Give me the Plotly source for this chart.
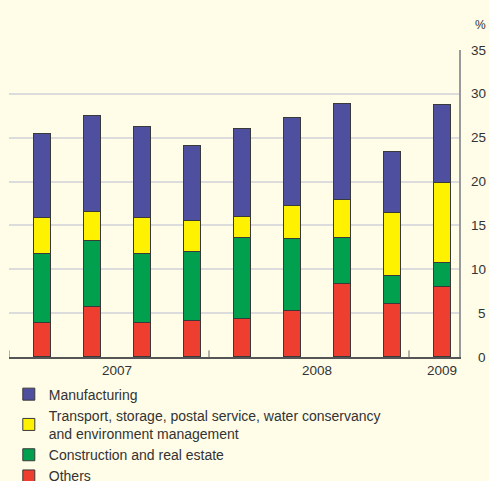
import plotly.graph_objects as go

# ---- data ----
bar_index = [0, 1, 2, 3, 4, 5, 6, 7, 8]
manufacturing = [9.5, 10.95, 10.3, 8.65, 10.05, 10.05, 11.0, 7.0, 8.9]
transport = [4.1, 3.3, 4.2, 3.45, 2.4, 3.85, 4.35, 7.2, 9.1]
construction = [7.95, 7.5, 7.8, 7.93, 9.22, 8.1, 5.17, 3.15, 2.7]
others = [3.85, 5.75, 3.9, 4.07, 4.38, 5.3, 8.38, 6.05, 8.0]

years = ["2007", "2008", "2009"]
year_first_bar = [0, 4, 8]
year_last_bar = [3, 7, 8]

y_ticks = [0, 5, 10, 15, 20, 25, 30, 35]

series = [
    ("Others", others, "#EE3E2F"),
    ("Construction and real estate", construction, "#00A04E"),
    ("Transport, storage, postal service, water conservancy<br>and environment management", transport, "#FFF200"),
    ("Manufacturing", manufacturing, "#4F4F9F"),
]

BG = "#FFFCE8"
TXT = "#333333"
FONT = "Liberation Sans, Arial, sans-serif"

fig = go.Figure()
for name, vals, col in series:
    fig.add_trace(go.Bar(
        x=bar_index, y=vals, name=name,
        marker=dict(color=col, line=dict(color="#3a3a3a", width=1)),
        width=0.34,
    ))

x0 = -0.66
x1 = 8.34

# group separator ticks on the category axis
shapes = []
for fb in year_first_bar:
    shapes.append(dict(type="line", xref="x", yref="y", x0=fb + x0, x1=fb + x0, y0=0, y1=0.75,
                       line=dict(color="#666666", width=1)))
shapes.append(dict(type="line", xref="x", yref="y", x0=x1, x1=x1, y0=0, y1=-0.4,
                   line=dict(color="#444444", width=1.5)))

annotations = []
for yr, fb, lb in zip(years, year_first_bar, year_last_bar):
    annotations.append(dict(x=(fb + lb) / 2, y=0, xref="x", yref="y", text=yr, showarrow=False,
                            yanchor="top", yshift=-4, font=dict(size=13.5, color=TXT, family=FONT)))
for t in y_ticks:
    annotations.append(dict(x=1.0, y=t, xref="paper", yref="y", text=str(t), showarrow=False,
                            xanchor="right", xshift=29, font=dict(size=13.5, color=TXT, family=FONT)))
annotations.append(dict(x=1.0, y=35, xref="paper", yref="y", text="%", showarrow=False,
                        xanchor="right", yanchor="bottom", xshift=29, yshift=16,
                        font=dict(size=12, color=TXT, family=FONT)))

fig.update_layout(
    barmode="stack",
    width=489, height=481,
    margin=dict(l=9, r=30, t=50, b=124, autoexpand=False),
    paper_bgcolor=BG, plot_bgcolor=BG,
    font=dict(family=FONT, size=13, color=TXT),
    showlegend=True,
    legend=dict(traceorder="reversed", xref="container", yref="container",
                x=0.018, xanchor="left", y=0.213, yanchor="top",
                bgcolor="rgba(0,0,0,0)", font=dict(size=14, color=TXT, family=FONT),
                itemclick=False, tracegroupgap=0),
    xaxis=dict(range=[x0, x1], showgrid=False, zeroline=False, showticklabels=False,
               showline=True, linecolor="#555555", linewidth=1.5, ticks="", fixedrange=True),
    yaxis=dict(range=[0, 35], side="right", showgrid=True, gridcolor="#DCDCDC", gridwidth=1.5,
               tickvals=y_ticks, showticklabels=False, zeroline=False,
               showline=True, linecolor="#999999", linewidth=1.5, ticks="", fixedrange=True),
    bargap=0,
    shapes=shapes,
    annotations=annotations,
)

fig.write_html("out.html", config={"displayModeBar": False},
               post_script="document.body.style.margin='0';document.body.style.overflow='hidden';")
